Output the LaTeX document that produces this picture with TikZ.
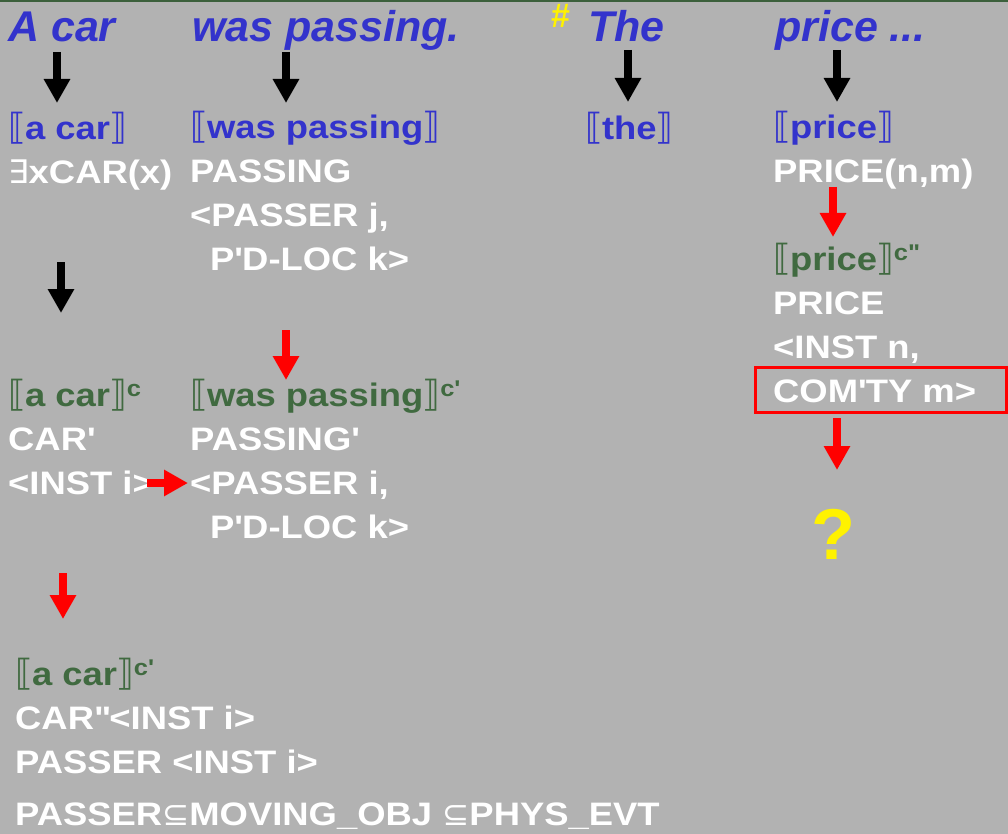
\documentclass[tikz,border=0pt]{standalone}
\usepackage{fontspec}
\usepackage{xcolor}
\usetikzlibrary{arrows.meta}
\setmainfont{Liberation Sans}
\newfontfamily\bodyfont{Liberation Sans}[FakeStretch=1.12]
\newfontfamily\symfont{DejaVu Sans}
\definecolor{slidegray}{RGB}{178,178,178}
\definecolor{semblue}{RGB}{51,51,204}
\definecolor{semgreen}{RGB}{64,106,64}
\definecolor{topgreen}{RGB}{60,96,60}
\newcommand{\lb}{{\fontsize{36}{44}\symfont\mdseries ⟦}\kern-1pt}
\newcommand{\rb}{\kern-1pt{\fontsize{36}{44}\symfont\mdseries ⟧}}
\newcommand{\q}{\textquotesingle}
\newcommand{\qq}{\textquotedbl}

\begin{document}
\begin{tikzpicture}[
    x=1pt, y=-1pt,
    word/.style={font=\fontsize{43}{50}\selectfont\bfseries\itshape, text=semblue, anchor=base west, inner sep=0pt},
    body/.style={font=\fontsize{32.5}{44}\bodyfont\bfseries, text=white, anchor=base west, inner sep=0pt, align=left},
    blkarrow/.style={line width=8pt, -{Triangle[width=25pt,length=24pt]}},
    redarrow/.style={blkarrow, red},
    redbox/.style={draw=red, line width=3pt}
  ]
  \useasboundingbox (0,0) rectangle (1008,834);
  \fill[slidegray] (0,0) rectangle (1008,834);
  \draw[topgreen, line width=2pt] (0,1) -- (1008,1);

  % the sentence
  \node[word] (tA) at (8,42) {A car};
  \node[word] (tW) at (192,42) {was passing.};
  \node[font=\fontsize{34}{34}\selectfont\bfseries, text=yellow, anchor=base west, inner sep=0pt] (hash) at (551,28) {\#};
  \node[word] (tThe) at (588,42) {The};
  \node[word] (tP) at (775,42) {price ...};

  % denotations (anchored at the baseline of the last line)
  \node[body] (semA) at (8,184) {\textcolor{semblue}{\lb a car\rb}\\{\symfont\mdseries ∃}xCAR(x)};
  \node[body] (semW) at (190,270) {\textcolor{semblue}{\lb was passing\rb}\\PASSING\\<PASSER j,\\\hspace{20pt}P\q D-LOC k>};
  \node[body] (semThe) at (585,140) {\textcolor{semblue}{\lb the\rb}};
  \node[body] (semP) at (773,183) {\textcolor{semblue}{\lb price\rb}\\PRICE(n,m)};

  % coerced
  \node[body] (semPc) at (773,402) {\textcolor{semgreen}{\lb price\rb\textsuperscript{c\qq}}\\PRICE\\<INST n,\\COM\q TY m>};
  \node[body] (semAc) at (8,494) {\textcolor{semgreen}{\lb a car\rb\textsuperscript{c}}\\CAR\q\\<INST i>};
  \node[body] (semWc) at (190,538) {\textcolor{semgreen}{\lb was passing\rb\textsuperscript{c\q}}\\PASSING\q\\<PASSER i,\\\hspace{20pt}P\q D-LOC k>};
  \node[body] (semAcc) at (15,825) {\textcolor{semgreen}{\lb a car\rb\textsuperscript{c\q}}\\CAR\qq<INST i>\\PASSER <INST i>\\[8pt]PASSER{\symfont\mdseries ⊆}MOVING\_OBJ {\symfont\mdseries ⊆}PHYS\_EVT};
  \node[font=\fontsize{72}{72}\selectfont\bfseries, text=yellow, anchor=base, inner sep=0pt] (qmark) at (833,559) {?};

  \draw[redbox] (755,367) rectangle (1006,412);

  % arrow ends
  \coordinate (a1s) at (57,52);   \coordinate (a1e) at (57,103);
  \coordinate (a2s) at (286,52);  \coordinate (a2e) at (286,103);
  \coordinate (a3s) at (628,50);  \coordinate (a3e) at (628,102);
  \coordinate (a4s) at (837,50);  \coordinate (a4e) at (837,102);
  \coordinate (a5s) at (61,262);  \coordinate (a5e) at (61,313);
  \coordinate (r1s) at (833,187); \coordinate (r1e) at (833,237);
  \coordinate (r2s) at (286,330); \coordinate (r2e) at (286,380);
  \coordinate (r3s) at (837,418); \coordinate (r3e) at (837,470);
  \coordinate (r4s) at (63,573);  \coordinate (r4e) at (63,619);
  \coordinate (r5s) at (147,483); \coordinate (r5e) at (188,483);

  \draw[blkarrow] (a1s) -- (a1e);
  \draw[blkarrow] (a2s) -- (a2e);
  \draw[blkarrow] (a3s) -- (a3e);
  \draw[blkarrow] (a4s) -- (a4e);
  \draw[blkarrow] (a5s) -- (a5e);
  \draw[redarrow] (r1s) -- (r1e);
  \draw[redarrow] (r2s) -- (r2e);
  \draw[redarrow] (r3s) -- (r3e);
  \draw[redarrow] (r4s) -- (r4e);
  \draw[redarrow] (r5s) -- (r5e);
\end{tikzpicture}
\end{document}
